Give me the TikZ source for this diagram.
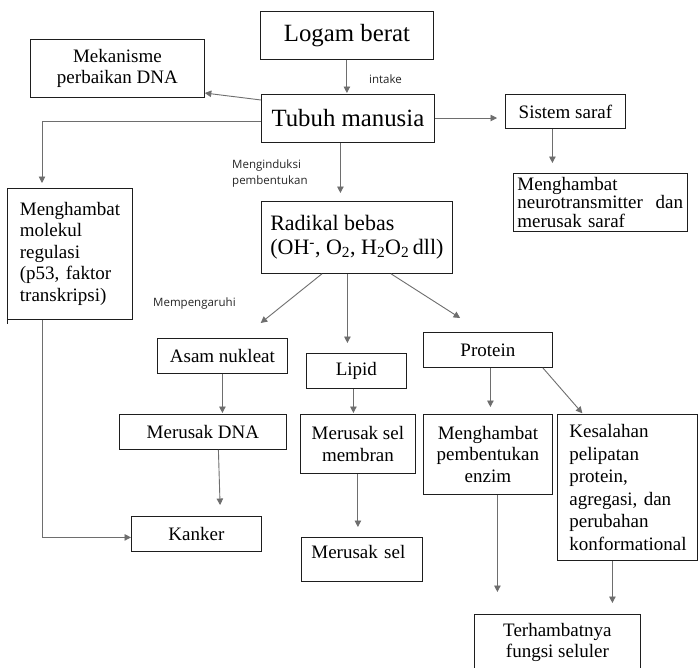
\documentclass[tikz,border=0pt]{standalone}
\usepackage{fontspec}
\setmainfont{Liberation Serif}
\newfontfamily\notefont{Open Sans}
\usetikzlibrary{arrows.meta,calc}

\definecolor{arrgray}{HTML}{6E6E6E}
\definecolor{edge}{HTML}{1E1E1E}

\newcommand{\bodysize}{\fontsize{19}{21.5}\selectfont}
\newcommand{\bigsize}{\fontsize{24.8}{28}\selectfont}

\tikzset{
  box/.style={draw=edge, line width=0.8pt, inner sep=0pt, anchor=north west,
              align=center, font=\bodysize},
  bigbox/.style={box, font=\bigsize},
  arr/.style={draw=arrgray, line width=0.9pt, -{Triangle[length=6.5pt,width=6.5pt]}},
  note/.style={font=\notefont\fontsize{11.5}{16}\selectfont, inner sep=0pt,
               anchor=base west, text=black!85},
}

\begin{document}
\begin{tikzpicture}[x=1pt,y=-1pt]
\useasboundingbox (0,0) rectangle (698,667);
\fill[white] (0,0) rectangle (698,667);

% top of the chain
\node[bigbox, minimum width=173pt, minimum height=48pt] (logam) at (260,11) {Logam berat};
\node[bigbox, minimum width=173pt, minimum height=48pt] (tubuh) at (261,94) {Tubuh manusia};
\node[box, minimum width=174pt, minimum height=58pt] (mek) at (30,39) {Mekanisme\\perbaikan DNA};
\node[box, minimum width=120pt, minimum height=34pt] (sistem) at (505,94) {Sistem saraf};
\node[box, minimum width=174pt, minimum height=58pt, text width=166pt, align=left,
      font=\fontsize{19}{18.5}\selectfont] (neuro) at (513,173)
      {Menghambat\\neurotransmitter\ \ dan\\merusak saraf};
\node[box, minimum width=125pt, minimum height=131pt, text width=100pt, align=left] (molek) at (7,188)
      {Menghambat\\molekul\\regulasi\\(p53, faktor\\transkripsi)};
\node[box, minimum width=191pt, minimum height=72pt, align=left,
      font=\fontsize{22}{24}\selectfont] (radikal) at (261,201)
      {Radikal bebas\\(OH\textsuperscript{-}, O\textsubscript{2}, H\textsubscript{2}O\textsubscript{2}\,dll)};

% targets of the free radicals
\node[box, minimum width=130pt, minimum height=35pt] (asam) at (157,338) {Asam nukleat};
\node[box, minimum width=100pt, minimum height=35pt] (lipid) at (306,353) {Lipid};
\node[box, minimum width=129pt, minimum height=35pt] (protein) at (423,332) {Protein};

% effects
\node[box, minimum width=167pt, minimum height=35pt] (dna) at (119,414) {Merusak DNA};
\node[box, minimum width=115pt, minimum height=59pt] (membran) at (300,414) {Merusak sel\\membran};
\node[box, minimum width=129pt, minimum height=80pt] (enzim) at (423,414) {Menghambat\\pembentukan\\enzim};
\node[box, minimum width=140pt, minimum height=146pt, text width=116pt, align=left,
      font=\fontsize{19}{22.5}\selectfont] (kes) at (557,414)
      {Kesalahan\\pelipatan\\protein,\\agregasi, dan\\perubahan\\konformational};
\node[box, minimum width=130pt, minimum height=35pt] (kanker) at (131,516) {Kanker};
\node[box, minimum width=121pt, minimum height=44pt, text width=101pt, align=left,
      text height=13pt, text depth=14pt] (sel) at (301,537) {Merusak sel};
\node[box, minimum width=166pt, minimum height=56pt] (terhambat) at (474,614) {Terhambatnya\\fungsi seluler};

% small labels on the connectors
\node[note] (lintake) at (369,83) {intake};
\node[note] (lind1) at (232,168) {Menginduksi};
\node[note] (lind2) at (232,184) {pembentukan};
\node[note] (lpeng) at (153,306) {Mempengaruhi};

% connectors
\draw[arr, shorten >=1pt] (logam.south) -- (logam.south |- tubuh.north);
\draw[arr] (tubuh.west |- 0,100) -- (mek.east |- 0,93);
\draw[arr, shorten >=5pt] (tubuh.west |- 0,121) -| ([xshift=35pt]molek.north west);
\draw[arr, shorten >=8pt] (tubuh.east |- 0,118) -- (sistem.west |- 0,118);
\draw[arr, shorten >=8pt] ([xshift=-7.5pt]tubuh.south) -- ([xshift=-7.5pt]tubuh.south |- radikal.north);
\draw[arr, shorten >=10pt] ([xshift=-13pt]sistem.south) -- ([xshift=-13pt]sistem.south |- neuro.north);

\draw[arr, shorten >=24pt] ([xshift=61pt]radikal.south west) -- ([xshift=85pt]asam.north west);
\draw[arr, shorten >=10pt] ([xshift=-9.5pt]radikal.south) -- ([xshift=-9.5pt]radikal.south |- lipid.north);
\draw[arr, shorten >=26pt] ([xshift=130pt]radikal.south west) -- ([xshift=59pt]protein.north west);

\draw[arr, shorten >=7pt] ([xshift=2.5pt]protein.south) -- ([xshift=2.5pt]protein.south |- enzim.north);
\draw[arr, shorten >=1pt] ([xshift=-10pt]protein.south east) -- ([xshift=26pt]kes.north west);
\draw[arr, shorten >=1pt] (asam.south) -- (asam.south |- dna.north);
\draw[arr, shorten >=1pt] ([xshift=-3pt]lipid.south) -- ([xshift=-3pt]lipid.south |- membran.north);

\draw[arr, shorten >=11pt] ([xshift=15.5pt]dna.south) -- ([xshift=24pt]kanker.north);
\draw[arr] ([xshift=35pt]molek.south west) |- ([yshift=-3.5pt]kanker.west);
\draw[draw=edge, line width=0.8pt] (molek.south west) -- ++(0,4);
\draw[arr, shorten >=10pt] (membran.south) -- (membran.south |- sel.north);

\draw[arr, shorten >=22pt] ([xshift=9.5pt]enzim.south) -- ([xshift=9.5pt]enzim.south |- terhambat.north);
\draw[arr, shorten >=11pt] ([xshift=-15pt]kes.south) -- ([xshift=-15pt]kes.south |- terhambat.north);
\end{tikzpicture}
\end{document}
